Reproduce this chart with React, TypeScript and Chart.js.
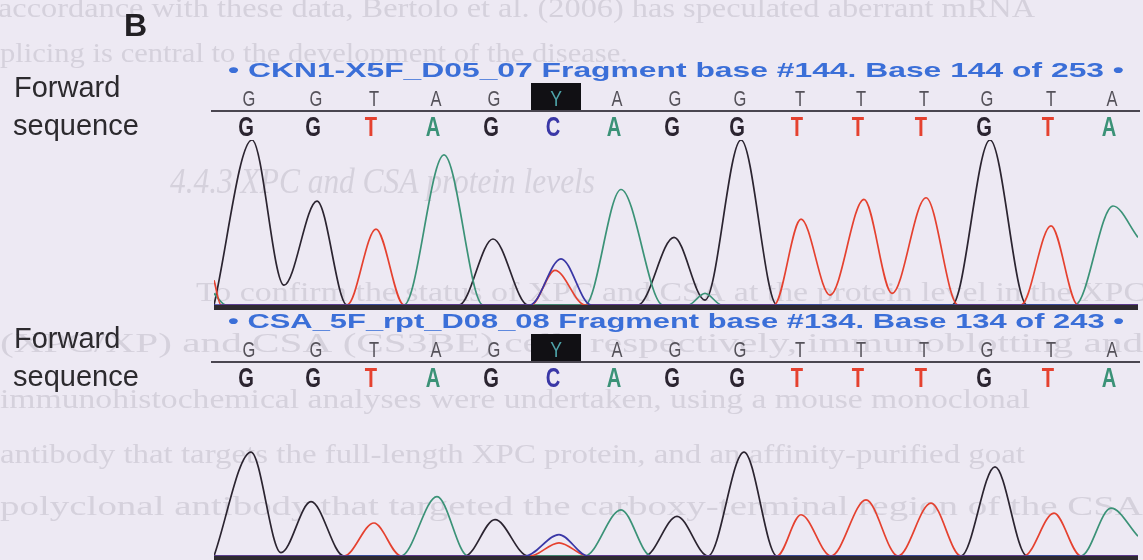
import React, { useEffect, useRef } from "react";
import { Chart, registerables } from "chart.js";

Chart.register(...registerables);

// ---------- data ----------
const CALLED_BASES = ["G", "G", "T", "A", "G", "Y", "A", "G", "G", "T", "T", "T", "G", "T", "A"];
const CONSENSUS_BASES = ["G", "G", "T", "A", "G", "C", "A", "G", "G", "T", "T", "T", "G", "T", "A"];
const BASE_POSITIONS = [249, 316, 374, 436, 494, 556, 617, 675, 740, 800, 861, 924, 987, 1051, 1112];

const HEADER_1 = "• CKN1-X5F_D05_07 Fragment base #144. Base 144 of 253 •";
const HEADER_2 = "• CSA_5F_rpt_D08_08 Fragment base #134. Base 134 of 243 •";

const PANEL_LABEL = "B";
const ROW_LABEL_1 = "Forward";
const ROW_LABEL_2 = "sequence";

// trace points [scan position, signal]
const P1_G = [[214,0],[252,100],[284,12],[317,63],[347,0],[459,0],[493,40],[528,0],[638,0],[674,41],[705,3],[741,100],[777,0],[952,0],[990,100],[1027,0],[1138,0]];
const P1_T = [[214,15],[221,0],[347,0],[376,46],[404,0],[531,0],[555,21],[585,0],[774,0],[801,52],[830,6],[864,64],[892,7],[926,65],[958,0],[1021,0],[1051,48],[1078,0],[1138,0]];
const P1_A = [[214,7],[226,0],[404,0],[444,91],[483,0],[585,0],[621,70],[663,0],[688,0],[705,7],[722,0],[1075,0],[1113,60],[1138,41]];
const P1_C = [[214,0],[530,0],[561,28],[591,0],[1138,0]];

const P2_G = [[214,0],[251,63],[281,2],[311,33],[344,0],[465,0],[495,22],[528,0],[645,0],[677,24],[708,0],[744,63],[777,0],[961,0],[995,54],[1027,0],[1138,0]];
const P2_T = [[214,0],[344,0],[374,20],[401,0],[530,0],[559,8],[588,0],[777,0],[801,25],[831,0],[866,34],[898,0],[931,32],[961,0],[1024,0],[1054,26],[1081,0],[1138,0]];
const P2_A = [[214,0],[401,0],[437,36],[468,0],[585,0],[621,28],[651,0],[1081,0],[1111,29],[1138,12]];
const P2_C = [[214,0],[525,0],[559,13],[588,0],[1138,0]];

// faint bleed-through text of the scanned page
const BG_LINES = [
  "accordance with these data, Bertolo et al. (2006) has speculated aberrant mRNA",
  "splicing is central to the development of the disease.",
  "4.4.3 XPC and CSA protein levels",
  "To confirm the status of XPC and CSA at the protein level in the XPC",
  "(XPC/XP) and CSA (CS3BE) cells respectively, immunoblotting and",
  "immunohistochemical analyses were undertaken, using a mouse monoclonal",
  "antibody that targets the full-length XPC protein, and an affinity-purified goat",
  "polyclonal antibody that targeted the carboxy-terminal region of the CSA",
];

// ---------- styles ----------
const W = 1143;
const H = 560;
const BG = "#ede9f3";
const BASE_COLORS: Record<string, string> = { G: "#2b2430", T: "#e5412f", A: "#3b9277", C: "#3a37a6" };
const SANS = "'Liberation Sans', Arial, sans-serif";
const SERIF = "'Liberation Serif', 'Times New Roman', serif";

function fitText(ctx: CanvasRenderingContext2D, text: string, x: number, y: number, width: number) {
  const w = ctx.measureText(text).width;
  ctx.save();
  ctx.translate(x, y);
  ctx.scale(width / w, 1);
  ctx.fillText(text, 0, 0);
  ctx.restore();
}

function scaledText(ctx: CanvasRenderingContext2D, text: string, cx: number, y: number, sx: number) {
  ctx.save();
  ctx.translate(cx, y);
  ctx.scale(sx, 1);
  ctx.textAlign = "center";
  ctx.fillText(text, 0, 0);
  ctx.restore();
}

function panelPlugin(header: string, isFirst: boolean) {
  return {
    id: "panelDecor" + (isFirst ? "1" : "2"),
    beforeDraw(chart: any) {
      if (!isFirst) return;
      const ctx: CanvasRenderingContext2D = chart.ctx;
      ctx.save();
      ctx.fillStyle = BG;
      ctx.fillRect(0, 0, W, H);
      ctx.fillStyle = "#d5d1dc";
      ctx.font = `28px ${SERIF}`;
      fitText(ctx, BG_LINES[0], -2, 17, 1037);
      fitText(ctx, BG_LINES[1], -12, 62, 640);
      ctx.font = `italic 36px ${SERIF}`;
      fitText(ctx, BG_LINES[2], 170, 193, 425);
      ctx.font = `28px ${SERIF}`;
      fitText(ctx, BG_LINES[3], 196, 301, 950);
      fitText(ctx, BG_LINES[4], 0, 352, 1143);
      fitText(ctx, BG_LINES[5], 0, 408, 1030);
      fitText(ctx, BG_LINES[6], 0, 463, 1025);
      fitText(ctx, BG_LINES[7], 0, 515, 1143);
      ctx.restore();
    },
    afterDatasetsDraw(chart: any) {
      const ctx: CanvasRenderingContext2D = chart.ctx;
      const ca = chart.chartArea;
      const xs = chart.scales.x;
      const top = ca.top;
      ctx.save();
      // thick baseline
      ctx.fillStyle = "#2e2a30";
      ctx.fillRect(ca.left, ca.bottom, ca.right - ca.left, 5);
      // header
      ctx.fillStyle = "#3b6fd8";
      ctx.font = `bold 21px ${SANS}`;
      ctx.textAlign = "left";
      ctx.textBaseline = "alphabetic";
      fitText(ctx, header, 228, top - 63, 896);
      // line under called bases
      ctx.fillStyle = "#4a4650";
      ctx.fillRect(211, top - 30, 929, 2);
      // called bases (gray)
      CALLED_BASES.forEach((b, i) => {
        const px = xs.getPixelForValue(BASE_POSITIONS[i]);
        ctx.font = `22px ${SANS}`;
        if (b === "Y") {
          ctx.fillStyle = "#111014";
          ctx.fillRect(px - 25, top - 57, 50, 27);
          ctx.fillStyle = "#4ea3a9";
          scaledText(ctx, b, px, top - 34, 0.8);
        } else {
          ctx.fillStyle = "#55525a";
          scaledText(ctx, b, px, top - 34, 0.75);
        }
      });
      // consensus bases (colored bold)
      CONSENSUS_BASES.forEach((b, i) => {
        const px = xs.getPixelForValue(BASE_POSITIONS[i]) - 3;
        ctx.font = `bold 28px ${SANS}`;
        ctx.fillStyle = BASE_COLORS[b];
        scaledText(ctx, b, px, top - 4, 0.72);
      });
      if (isFirst) {
        ctx.fillStyle = "#222024";
        ctx.font = `bold 32px ${SANS}`;
        ctx.textAlign = "left";
        ctx.fillText(PANEL_LABEL, 124, 36);
      }
      // row labels
      ctx.fillStyle = "#2c2a2e";
      ctx.font = `29px ${SANS}`;
      ctx.textAlign = "left";
      ctx.fillText(ROW_LABEL_1, 14, top - 43);
      ctx.fillText(ROW_LABEL_2, 13, top - 5);
      ctx.restore();
    },
  };
}

function makeConfig(g: number[][], t: number[][], a: number[][], c: number[][], top: number, bottom: number, header: string, isFirst: boolean): any {
  const ds = (pts: number[][], color: string) => ({
    data: pts.map(([x, y]) => ({ x, y })),
    borderColor: color,
    borderWidth: 1.7,
    pointRadius: 0,
    fill: false,
    cubicInterpolationMode: "monotone",
  });
  return {
    type: "line",
    data: {
      datasets: [
        ds(c, BASE_COLORS.C),
        ds(t, BASE_COLORS.T),
        ds(a, BASE_COLORS.A),
        ds(g, BASE_COLORS.G),
      ],
    },
    options: {
      animation: false,
      responsive: false,
      events: [],
      layout: { padding: { left: 214, right: W - 1138, top, bottom: H - bottom } },
      scales: {
        x: { type: "linear", min: 214, max: 1138, display: false },
        y: { min: 0, max: 100, display: false },
      },
      plugins: { legend: { display: false }, tooltip: { enabled: false } },
    },
    plugins: [panelPlugin(header, isFirst)],
  };
}

export default function App() {
  const ref1 = useRef<HTMLCanvasElement>(null);
  const ref2 = useRef<HTMLCanvasElement>(null);
  useEffect(() => {
    const c1 = new Chart(ref1.current!, makeConfig(P1_G, P1_T, P1_A, P1_C, 140, 305, HEADER_1, true));
    const c2 = new Chart(ref2.current!, makeConfig(P2_G, P2_T, P2_A, P2_C, 391, 556, HEADER_2, false));
    return () => {
      c1.destroy();
      c2.destroy();
    };
  }, []);
  return (
    <div style={{ position: "fixed", left: 0, top: 0, width: W, height: H, background: BG, overflow: "hidden" }}>
      <canvas ref={ref1} width={W} height={H} style={{ position: "absolute", left: 0, top: 0 }} />
      <canvas ref={ref2} width={W} height={H} style={{ position: "absolute", left: 0, top: 0 }} />
    </div>
  );
}
